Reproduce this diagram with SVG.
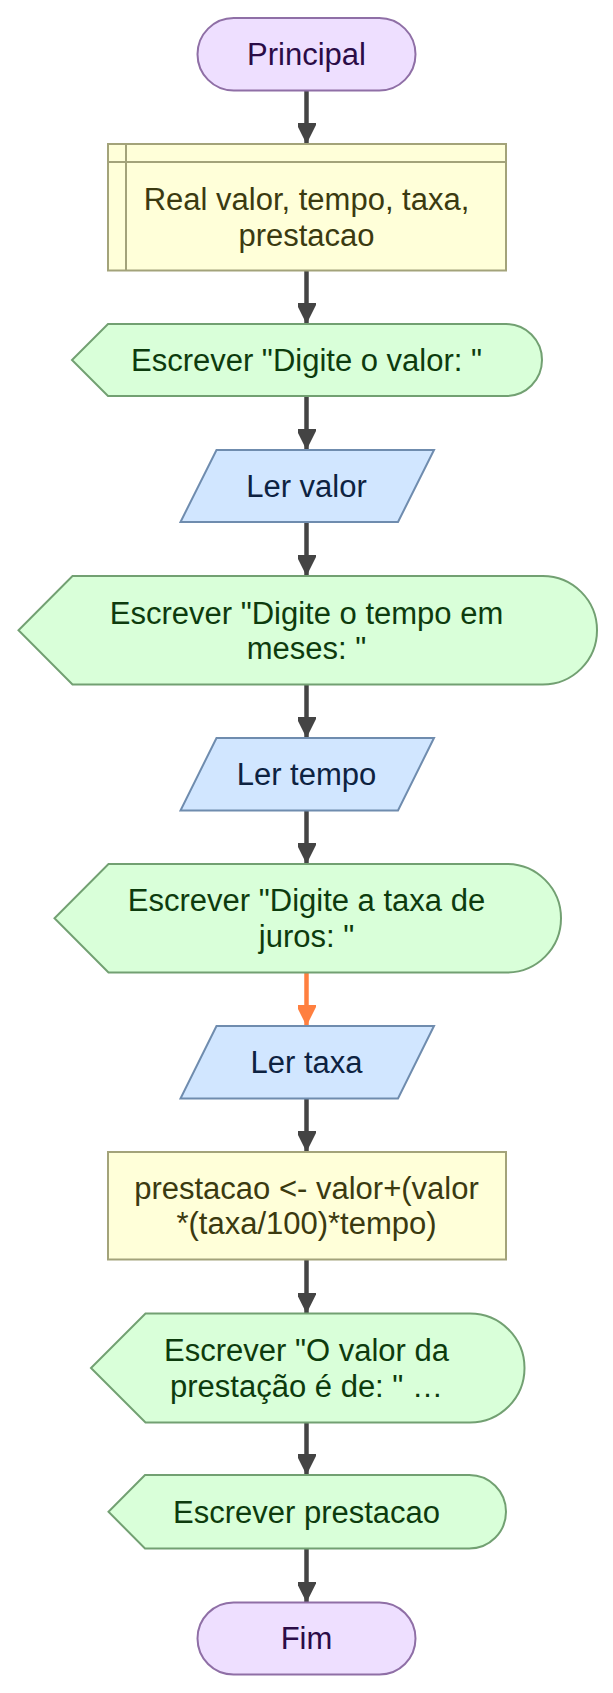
<svg xmlns="http://www.w3.org/2000/svg" width="613" height="1693" viewBox="0 0 613 1693">
<style>
text{font-family:"Liberation Sans",Arial,sans-serif;font-size:31px;text-anchor:middle}
.term{fill:#eedfff;stroke:#8f6fa6;stroke-width:2}
.term-t{fill:#2b0c47}
.decl{fill:#ffffd9;stroke:#a3a37a;stroke-width:2}
.decl-t{fill:#3b3a10}
.out{fill:#d9ffd9;stroke:#72a072;stroke-width:2}
.out-t{fill:#0d3b0d}
.in{fill:#d1e6ff;stroke:#6f8cae;stroke-width:2}
.in-t{fill:#0d2241}
.edge{stroke:#444;stroke-width:4.5;fill:none}
.edge-o{stroke:#ff7f3f;stroke-width:4.5;fill:none}
</style>
<defs>
<marker id="ah" markerUnits="userSpaceOnUse" markerWidth="22" markerHeight="18" refX="21" refY="9" orient="auto"><path d="M0,-1.5 L21,9 L0,19.5 Z" fill="#444"/></marker>
<marker id="aho" markerUnits="userSpaceOnUse" markerWidth="22" markerHeight="18" refX="21" refY="9" orient="auto"><path d="M0,-1.5 L21,9 L0,19.5 Z" fill="#ff7f3f"/></marker>
</defs>
<g id="connectors">
<line class="edge" x1="306.5" y1="90.5" x2="306.5" y2="144" marker-end="url(#ah)"/>
<line class="edge" x1="306.5" y1="270.5" x2="306.5" y2="324" marker-end="url(#ah)"/>
<line class="edge" x1="306.5" y1="396" x2="306.5" y2="450" marker-end="url(#ah)"/>
<line class="edge" x1="306.5" y1="522" x2="306.5" y2="576" marker-end="url(#ah)"/>
<line class="edge" x1="306.5" y1="684.5" x2="306.5" y2="738" marker-end="url(#ah)"/>
<line class="edge" x1="306.5" y1="810.5" x2="306.5" y2="864" marker-end="url(#ah)"/>
<line class="edge-o" x1="306.5" y1="972.5" x2="306.5" y2="1026" marker-end="url(#aho)"/>
<line class="edge" x1="306.5" y1="1098.5" x2="306.5" y2="1152" marker-end="url(#ah)"/>
<line class="edge" x1="306.5" y1="1259.5" x2="306.5" y2="1313.5" marker-end="url(#ah)"/>
<line class="edge" x1="306.5" y1="1422.5" x2="306.5" y2="1475" marker-end="url(#ah)"/>
<line class="edge" x1="306.5" y1="1548.5" x2="306.5" y2="1602.5" marker-end="url(#ah)"/>
</g>
<g id="n1"><rect class="term" x="197.5" y="18" width="218" height="72.5" rx="36.25"/><text class="term-t" x="306.5" y="65">Principal</text></g>
<g id="n2"><rect class="decl" x="108" y="144" width="398" height="126.5"/><line class="decl" x1="126" y1="144" x2="126" y2="270.5"/><line class="decl" x1="108" y1="162" x2="506" y2="162"/><text class="decl-t" x="306.5" y="210">Real valor, tempo, taxa,</text><text class="decl-t" x="306.5" y="245.5">prestacao</text></g>
<g id="n3"><path class="out" d="M108,324 H506 A36,36 0 0 1 506,396 H108 L72,360 Z"/><text class="out-t" x="306.5" y="370.5">Escrever "Digite o valor: "</text></g>
<g id="n4"><polygon class="in" points="216.5,450 434,450 398,522 180.5,522"/><text class="in-t" x="306.5" y="496.5">Ler valor</text></g>
<g id="n5"><path class="out" d="M72.5,576 H542.75 A54.25,54.25 0 0 1 542.75,684.5 H72.5 L18.5,630.25 Z"/><text class="out-t" x="306.5" y="624">Escrever "Digite o tempo em</text><text class="out-t" x="306.5" y="659">meses: "</text></g>
<g id="n6"><polygon class="in" points="216.5,738 434,738 398,810.5 180.5,810.5"/><text class="in-t" x="306.5" y="785">Ler tempo</text></g>
<g id="n7"><path class="out" d="M108.5,864 H506.75 A54.25,54.25 0 0 1 506.75,972.5 H108.5 L54.5,918.25 Z"/><text class="out-t" x="306.5" y="910.5">Escrever "Digite a taxa de</text><text class="out-t" x="306.5" y="947">juros: "</text></g>
<g id="n8"><polygon class="in" points="216.5,1026 434,1026 398,1098.5 180.5,1098.5"/><text class="in-t" x="306.5" y="1072.5">Ler taxa</text></g>
<g id="n9"><rect class="decl" x="108" y="1152" width="398" height="107.5"/><text class="decl-t" x="306.5" y="1199">prestacao &lt;- valor+(valor</text><text class="decl-t" x="306.5" y="1234">*(taxa/100)*tempo)</text></g>
<g id="n10"><path class="out" d="M145.5,1313.5 H470 A54.5,54.5 0 0 1 470,1422.5 H145.5 L91,1368 Z"/><text class="out-t" x="306.5" y="1360.5">Escrever "O valor da</text><text class="out-t" x="306.5" y="1397">prestação é de: " …</text></g>
<g id="n11"><path class="out" d="M145,1475 H469.25 A36.75,36.75 0 0 1 469.25,1548.5 H145 L108.5,1511.75 Z"/><text class="out-t" x="306.5" y="1522.5">Escrever prestacao</text></g>
<g id="n12"><rect class="term" x="197.5" y="1602.5" width="218" height="72" rx="36"/><text class="term-t" x="306.5" y="1649">Fim</text></g>
</svg>
